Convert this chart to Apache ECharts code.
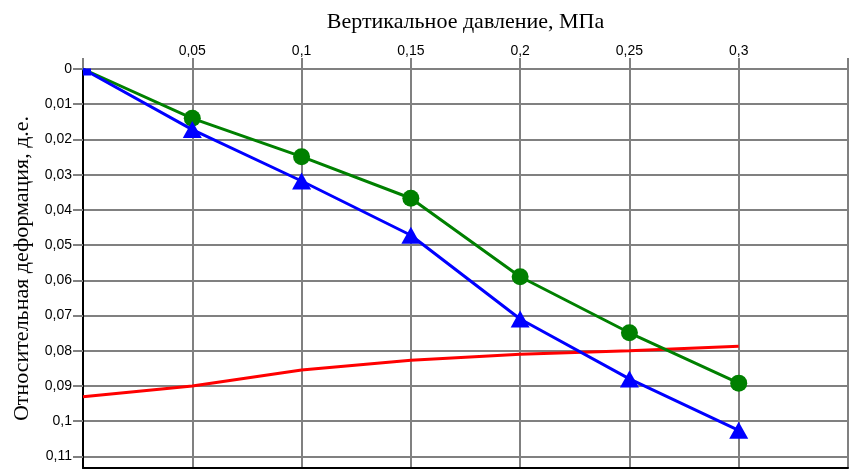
<!DOCTYPE html>
<html>
<head>
<meta charset="utf-8">
<script src="https://cdn.jsdelivr.net/npm/echarts@6/dist/echarts.min.js"></script>
<style>
  html, body { margin: 0; padding: 0; background: #fff; }
  #chart { width: 850px; height: 474px; }
</style>
</head>
<body>
<div id="chart"></div>
<script>
const pressure = [0, 0.05, 0.1, 0.15, 0.2, 0.25, 0.3];
const greenDeform = [0, 0.014, 0.0249, 0.0367, 0.059, 0.0749, 0.0892];
const blueDeform = [0, 0.0172, 0.0318, 0.0472, 0.071, 0.088, 0.1026];
const redDeform = [0.0931, 0.09, 0.0855, 0.0827, 0.081, 0.0800, 0.0787];

const xName = "Вертикальное давление, МПа";
const yName = "Относительная деформация, д.е.";

const comma = (v) => String(+v.toFixed(3)).replace(".", ",");
const pairs = (ys) => pressure.map((x, i) => [x, ys[i]]);

const chart = echarts.init(document.getElementById("chart"));
const gridColor = "#808080";

// first blue point: the reference shows only a small clipped square at the origin
const blueData = pairs(blueDeform);
blueData[0] = { value: blueData[0], symbol: "rect", symbolSize: [8, 7], symbolOffset: [4, 3] };
const greenData = pairs(greenDeform);
greenData[0] = { value: greenData[0], symbol: "none" };

chart.setOption({
  animation: false,
  backgroundColor: "#fff",
  grid: { left: 83, right: 2, top: 69, bottom: 6, containLabel: false, outerBoundsMode: "none" },
  xAxis: [
    {
      type: "value",
      position: "top",
      min: 0,
      max: 0.35,
      interval: 0.05,
      name: xName,
      nameLocation: "middle",
      nameGap: 36,
      nameTextStyle: { fontFamily: "Liberation Serif", fontSize: 22, color: "#000" },
      axisLine: { show: true, lineStyle: { color: gridColor, width: 2 } },
      axisTick: { show: true, length: 11, lineStyle: { color: gridColor, width: 2 } },
      axisLabel: {
        margin: 11,
        fontFamily: "Liberation Sans",
        fontSize: 14,
        color: "#000",
        formatter: (v) => (v === 0 || v > 0.32 ? "" : comma(v)),
      },
      splitLine: { show: true, lineStyle: { color: gridColor, width: 2 } },
    },
    {
      type: "value",
      position: "bottom",
      min: 0,
      max: 0.35,
      axisLine: { show: true, onZero: false, lineStyle: { color: "#000", width: 2 } },
      axisTick: { show: false },
      axisLabel: { show: false },
      splitLine: { show: false },
    },
  ],
  yAxis: {
    type: "value",
    inverse: true,
    min: 0,
    max: 0.1133,
    interval: 0.01,
    name: yName,
    nameLocation: "middle",
    nameGap: 50,
    nameTextStyle: { fontFamily: "Liberation Serif", fontSize: 22, color: "#000" },
    axisLine: { show: true, onZero: false, lineStyle: { color: "#000", width: 2 } },
    axisTick: { show: true, length: 10, lineStyle: { color: gridColor, width: 2 } },
    axisLabel: {
      margin: 11,
      fontFamily: "Liberation Sans",
      fontSize: 14,
      color: "#000",
      showMaxLabel: false,
      formatter: (v) => comma(v),
    },
    splitLine: { show: true, lineStyle: { color: gridColor, width: 2 } },
  },
  series: [
    {
      name: "red",
      type: "line",
      data: pairs(redDeform),
      showSymbol: false,
      lineStyle: { color: "#ff0000", width: 3 },
      itemStyle: { color: "#ff0000" },
      z: 3,
    },
    {
      name: "green",
      type: "line",
      data: greenData,
      symbol: "circle",
      symbolSize: 17,
      lineStyle: { color: "#008000", width: 3 },
      itemStyle: { color: "#008000" },
      z: 4,
    },
    {
      name: "blue",
      type: "line",
      data: blueData,
      symbol: "triangle",
      symbolSize: [19, 17],
      lineStyle: { color: "#0000ff", width: 3 },
      itemStyle: { color: "#0000ff" },
      z: 5,
    },
  ],
});
</script>
</body>
</html>
